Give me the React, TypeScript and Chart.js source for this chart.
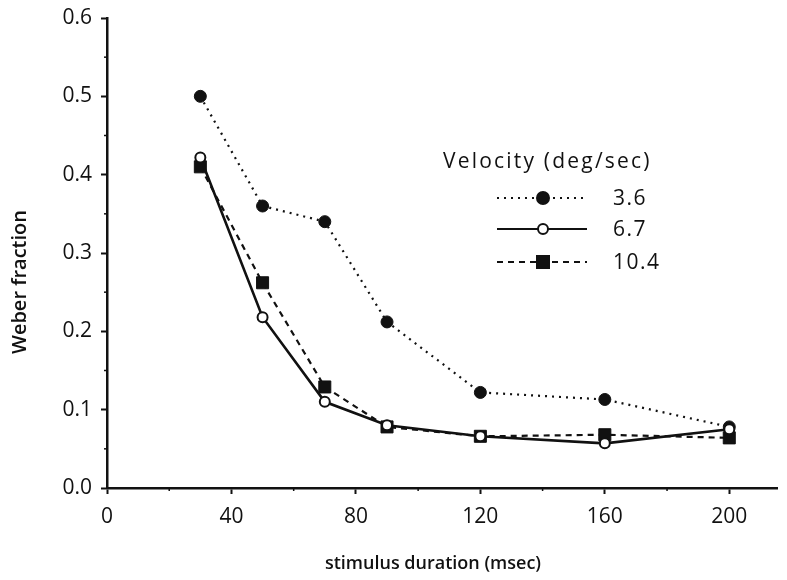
import React, { useEffect, useRef } from 'react';
import { Chart, registerables } from 'chart.js';

Chart.register(...registerables);

const durations = [30, 50, 70, 90, 120, 160, 200];
const vel36 = [0.5, 0.36, 0.34, 0.212, 0.122, 0.113, 0.078];
const vel67 = [0.422, 0.218, 0.11, 0.08, 0.066, 0.057, 0.075];
const vel104 = [0.41, 0.262, 0.129, 0.078, 0.066, 0.068, 0.064];
const seriesLabels = ['3.6', '6.7', '10.4'];
const xTickValues = [0, 40, 80, 120, 160, 200];
const xMinorTicks = [20, 60, 100, 140, 180];
const yTickValues = [0, 0.1, 0.2, 0.3, 0.4, 0.5, 0.6];
const yMinorTicks = [0.05, 0.15, 0.25, 0.35, 0.45, 0.55];
const xTitle = 'stimulus duration (msec)';
const yTitle = 'Weber fraction';
const legendTitle = 'Velocity (deg/sec)';

const FONT = '"Open Sans", "Liberation Sans", sans-serif';
const INK = '#111';

const dashes: number[][] = [[2, 5], [], [6, 5]];

const overlayPlugin = {
  id: 'overlay',
  afterDraw(chart: any) {
    const ctx = chart.ctx as CanvasRenderingContext2D;
    const xs = chart.scales.x;
    const ys = chart.scales.y;
    const area = chart.chartArea;
    ctx.save();
    // minor ticks
    ctx.strokeStyle = INK;
    ctx.lineWidth = 1.5;
    xMinorTicks.forEach((v) => {
      const px = xs.getPixelForValue(v);
      ctx.beginPath();
      ctx.moveTo(px, area.bottom);
      ctx.lineTo(px, area.bottom + 3);
      ctx.stroke();
    });
    yMinorTicks.forEach((v) => {
      const py = ys.getPixelForValue(v);
      ctx.beginPath();
      ctx.moveTo(area.left, py);
      ctx.lineTo(area.left - 3, py);
      ctx.stroke();
    });
    // axis titles
    ctx.fillStyle = INK;
    ctx.font = `600 18px ${FONT}`;
    ctx.textAlign = 'center';
    ctx.textBaseline = 'middle';
    ctx.fillText(xTitle, 433, 564);
    ctx.save();
    ctx.font = `600 20px ${FONT}`;
    ctx.translate(20, 282);
    ctx.rotate(-Math.PI / 2);
    ctx.fillText(yTitle, 0, 0);
    ctx.restore();
    // legend
    ctx.font = `500 21px ${FONT}`;
    (ctx as any).letterSpacing = '2.2px';
    ctx.textAlign = 'left';
    ctx.fillText(legendTitle, 443, 162);
    (ctx as any).letterSpacing = '1.5px';
    const rows = [198, 229, 262];
    chart.data.datasets.forEach((ds: any, i: number) => {
      const y = rows[i];
      ctx.save();
      ctx.strokeStyle = INK;
      ctx.lineWidth = 2.2;
      ctx.setLineDash(dashes[i]);
      ctx.beginPath();
      ctx.moveTo(497, y);
      ctx.lineTo(587, y);
      ctx.stroke();
      ctx.restore();
      ctx.save();
      ctx.fillStyle = ds.pointBackgroundColor;
      ctx.strokeStyle = INK;
      ctx.lineWidth = 2;
      ctx.beginPath();
      if (ds.pointStyle === 'rect') {
        ctx.rect(543 - 6, y - 6, 12, 12);
      } else {
        ctx.arc(543, y, ds.pointRadius, 0, Math.PI * 2);
      }
      ctx.fill();
      ctx.stroke();
      ctx.restore();
      ctx.fillStyle = INK;
      ctx.fillText(seriesLabels[i], 613, y + 1);
    });
    ctx.restore();
  },
};

export default function App() {
  const ref = useRef<HTMLCanvasElement>(null);
  useEffect(() => {
    if (!ref.current) return;
    const chart = new Chart(ref.current, {
      type: 'line',
      data: {
        datasets: [
          {
            label: seriesLabels[0],
            data: durations.map((d, i) => ({ x: d, y: vel36[i] })),
            borderColor: INK,
            borderWidth: 2.2,
            borderDash: dashes[0],
            pointStyle: 'circle',
            pointRadius: 6,
            pointBackgroundColor: INK,
            pointBorderColor: INK,
            pointBorderWidth: 1,
            order: 2,
          },
          {
            label: seriesLabels[1],
            data: durations.map((d, i) => ({ x: d, y: vel67[i] })),
            borderColor: INK,
            borderWidth: 2.6,
            pointStyle: 'circle',
            pointRadius: 5,
            pointBackgroundColor: '#fff',
            pointBorderColor: INK,
            pointBorderWidth: 2,
            order: 0,
          },
          {
            label: seriesLabels[2],
            data: durations.map((d, i) => ({ x: d, y: vel104[i] })),
            borderColor: INK,
            borderWidth: 2.2,
            borderDash: dashes[2],
            pointStyle: 'rect',
            pointRadius: 8.5,
            pointBackgroundColor: INK,
            pointBorderColor: INK,
            pointBorderWidth: 1,
            order: 1,
          },
        ] as any,
      },
      options: {
        responsive: false,
        animation: false,
        events: [],
        layout: { padding: { top: 18, right: 0, left: 0, bottom: 0 } },
        plugins: {
          legend: { display: false },
          tooltip: { enabled: false },
        },
        scales: {
          x: {
            type: 'linear',
            min: 0,
            max: 215.5,
            afterBuildTicks: (s: any) => {
              s.ticks = xTickValues.map((v) => ({ value: v }));
            },
            afterFit: (s: any) => {
              s.height = 92;
              s.paddingLeft = 0;
              s.paddingRight = 0;
            },
            grid: { drawOnChartArea: false, tickLength: 6, tickWidth: 2, tickColor: INK },
            border: { color: INK, width: 2.5 },
            ticks: {
              color: INK,
              padding: 10,
              maxRotation: 0,
              font: { family: FONT, size: 21, weight: '500' },
              callback: (v: any) => String(v),
            },
          },
          y: {
            type: 'linear',
            min: 0,
            max: 0.6,
            afterBuildTicks: (s: any) => {
              s.ticks = yTickValues.map((v) => ({ value: v }));
            },
            afterFit: (s: any) => {
              s.width = 107;
              s.paddingTop = 0;
              s.paddingBottom = 0;
            },
            grid: { drawOnChartArea: false, tickLength: 6, tickWidth: 2, tickColor: INK },
            border: { color: INK, width: 2.5 },
            ticks: {
              color: INK,
              padding: 9,
              font: { family: FONT, size: 21, weight: '500' },
              callback: (v: any) => Number(v).toFixed(1),
            },
          },
        },
      },
      plugins: [overlayPlugin],
    });
    return () => chart.destroy();
  }, []);
  return (
    <div style={{ position: 'fixed', left: 0, top: 0, width: 787, height: 580, background: '#fff' }}>
      <canvas ref={ref} width={787} height={580} style={{ display: 'block' }} />
    </div>
  );
}
